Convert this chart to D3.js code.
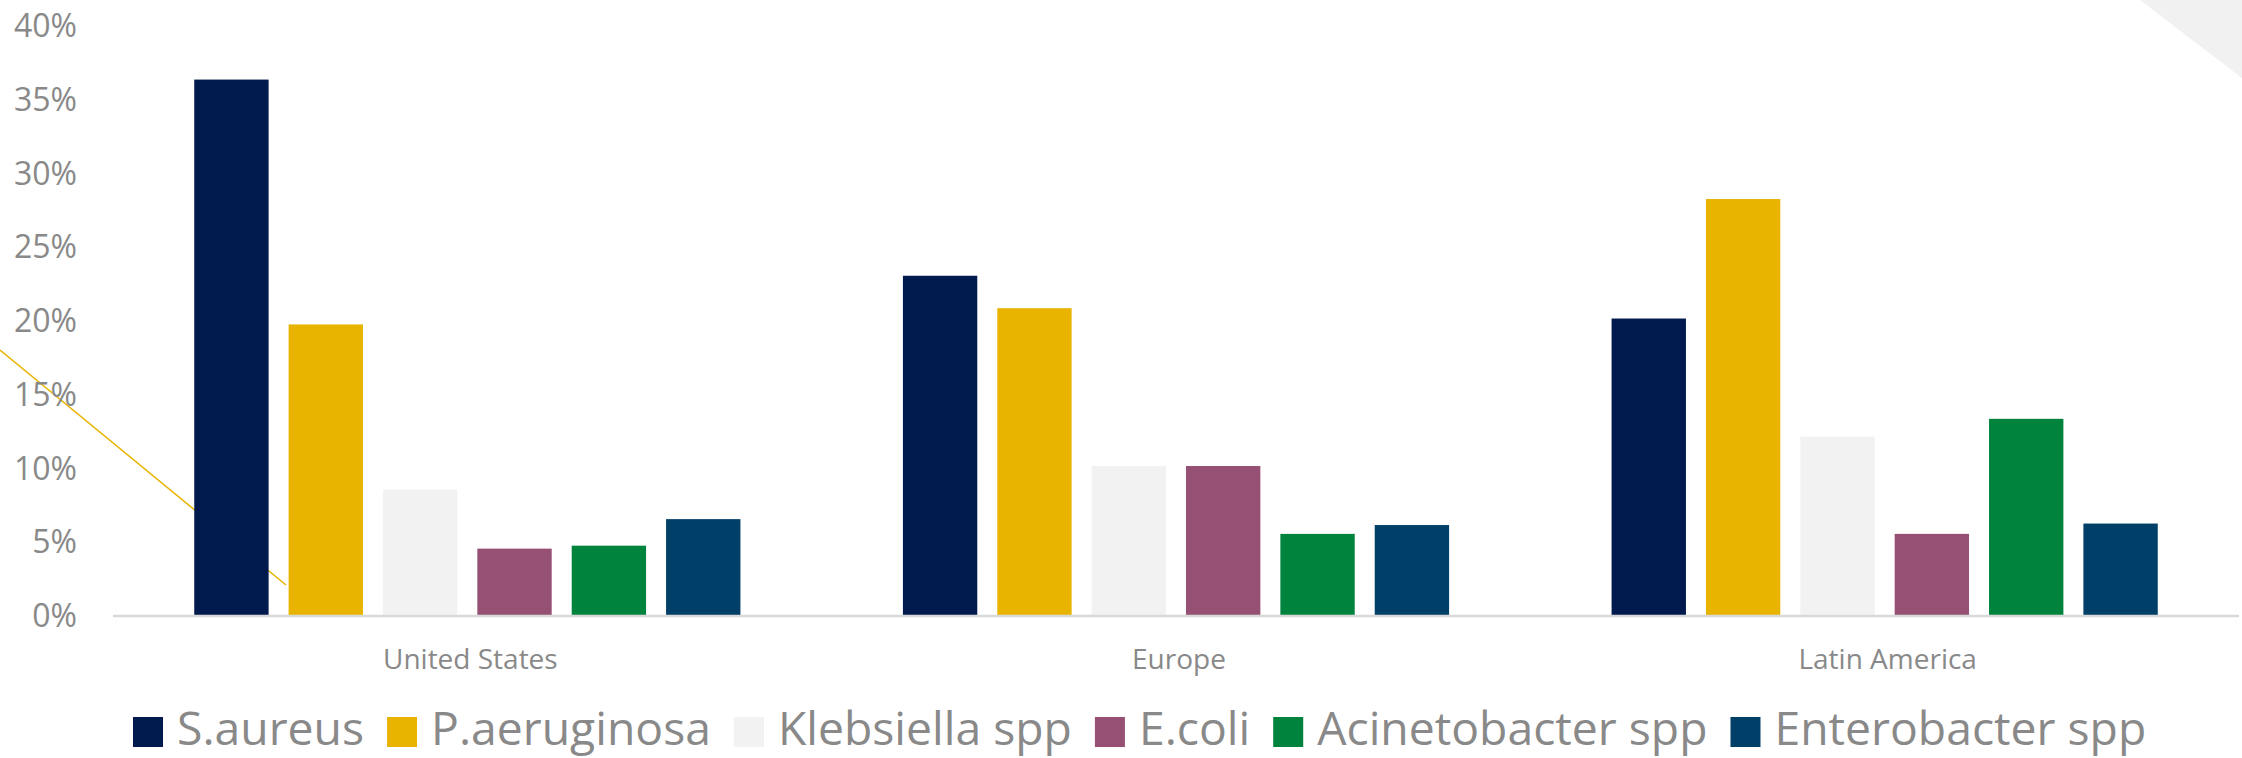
<!DOCTYPE html>
<html>
<head>
<meta charset="utf-8">
<script src="https://cdn.jsdelivr.net/npm/d3@7/dist/d3.min.js"></script>
<style>
  html, body { margin: 0; padding: 0; background: #fff; }
  svg { display: block; }
  text { font-family: "Open Sans", "Noto Sans", sans-serif; }
</style>
</head>
<body>
<svg id="chart" width="2242" height="758"></svg>
<script>
// Regions on the x axis
const regions = ["United States", "Europe", "Latin America"];

// Pathogen series (legend order)
const species = ["S.aureus", "P.aeruginosa", "Klebsiella spp", "E.coli", "Acinetobacter spp", "Enterobacter spp"];
const speciesColors = ["#001A4E", "#E8B400", "#F2F2F2", "#955073", "#00843D", "#003F67"];

// Share of isolates (%) per region, one array per pathogen
const sAureus       = [36.3, 23.0, 20.1];
const pAeruginosa   = [19.7, 20.8, 28.2];
const klebsiella    = [8.5, 10.1, 12.1];
const eColi         = [4.5, 10.1, 5.5];
const acinetobacter = [4.7, 5.5, 13.3];
const enterobacter  = [6.5, 6.1, 6.2];

// Y axis ticks
const yTicks = [0, 5, 10, 15, 20, 25, 30, 35, 40];
const yTickLabels = ["0%", "5%", "10%", "15%", "20%", "25%", "30%", "35%", "40%"];

const seriesValues = [sAureus, pAeruginosa, klebsiella, eColi, acinetobacter, enterobacter];

const svg = d3.select("#chart");
const textGray = "#898989";

// Decorative slide accents
svg.append("polygon")
  .attr("points", "2140,0 2242,0 2242,78")
  .attr("fill", "#F1F1F1");
svg.append("line")
  .attr("x1", 0).attr("y1", 350)
  .attr("x2", 286).attr("y2", 585)
  .attr("stroke", "#E8B400")
  .attr("stroke-width", 1.5);

// Scales
const y = d3.scaleLinear().domain([0, 40]).range([615, 25]);
const x0 = d3.scaleBand().domain(regions).range([113, 2239]).paddingInner(0).paddingOuter(0);
const x1 = d3.scaleBand().domain(species).range([0, x0.bandwidth()])
  .paddingInner(0.212).paddingOuter(0.861);
const color = d3.scaleOrdinal().domain(species).range(speciesColors);

// Bars
const rows = [];
regions.forEach((r, ri) => {
  species.forEach((s, si) => rows.push({ region: r, species: s, value: seriesValues[si][ri] }));
});

svg.append("g").selectAll("rect")
  .data(rows)
  .join("rect")
  .attr("x", d => x0(d.region) + x1(d.species))
  .attr("y", d => y(d.value))
  .attr("width", x1.bandwidth())
  .attr("height", d => y(0) - y(d.value))
  .attr("fill", d => color(d.species));

// Baseline
svg.append("line")
  .attr("x1", 113).attr("x2", 2239)
  .attr("y1", y(0) + 1).attr("y2", y(0) + 1)
  .attr("stroke", "#D9D9D9")
  .attr("stroke-width", 2.5);

// Y axis labels
const yAxis = d3.axisLeft(y)
  .tickValues(yTicks)
  .tickFormat((d, i) => yTickLabels[i])
  .tickSize(0)
  .tickPadding(0);
const gy = svg.append("g").attr("transform", "translate(77,0)").call(yAxis);
gy.select(".domain").remove();
gy.selectAll("text")
  .attr("fill", textGray)
  .style("font-size", "32px")
  .style("font-family", "'Open Sans', sans-serif")
  .attr("dy", "0.36em");

// X axis labels
const xAxis = d3.axisBottom(x0).tickSize(0).tickPadding(0);
const gx = svg.append("g").attr("transform", "translate(3,659)").call(xAxis);
gx.select(".domain").remove();
gx.selectAll("text")
  .attr("y", 0)
  .attr("fill", textGray)
  .style("font-size", "28px")
  .style("font-family", "'Open Sans', sans-serif")
  .attr("dy", "0.36em");

// Legend
const legend = svg.append("g").attr("transform", "translate(133,0)");
let cursor = 0;
species.forEach((s, i) => {
  legend.append("rect")
    .attr("x", cursor).attr("y", 717)
    .attr("width", 30).attr("height", 30)
    .attr("fill", speciesColors[i]);
  const t = legend.append("text")
    .attr("x", cursor + 44).attr("y", 745)
    .attr("fill", textGray)
    .style("font-size", "46.3px")
    .text(s);
  cursor += 44 + t.node().getComputedTextLength() + 23;
});
</script>
</body>
</html>
